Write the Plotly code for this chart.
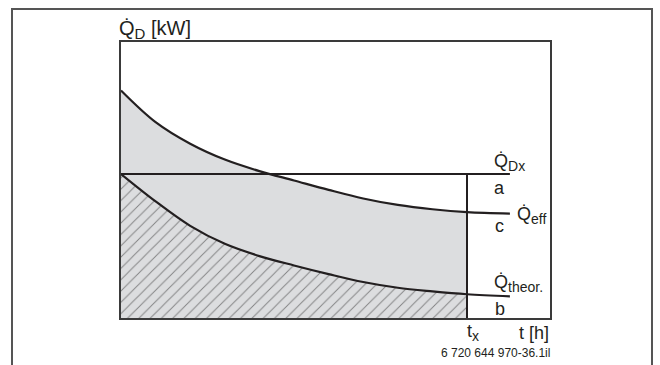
import plotly.graph_objects as go

# time axis (relative units, t_x = 10)
t = [0, 1, 2, 3, 4, 5, 6, 7, 8, 9, 10, 11.24]
q_eff = [15.8, 13.6, 12.1, 11.0, 10.2, 9.55, 8.9, 8.3, 7.85, 7.55, 7.35, 7.25]
q_theor = [10.0, 8.1, 6.4, 5.15, 4.3, 3.65, 3.05, 2.5, 2.1, 1.85, 1.65, 1.5]
q_dx = 10.0
t_x = 10.0
t_end = 11.24

# pixel geometry helpers (plot area 121..550 x, 42..318 y)
W, H = 660, 365
L, R, T, B = 121, 550, 42, 318
XR = (R - L) / 34.6
YR = (B - T) / 14.4

def px(x):
    return (x - L) / (R - L)

def py(y):
    return (B - y) / (B - T)

LINE = "#231f20"
GRAY = "#dcdddf"
FONT = "Liberation Sans, Arial, sans-serif"

n_fill = t.index(t_x) + 1

fig = go.Figure()
# gray area under Q_eff up to t_x
fig.add_trace(go.Scatter(x=t[:n_fill], y=q_eff[:n_fill], mode="lines", line=dict(width=0, shape="spline"),
                         fill="tozeroy", fillcolor=GRAY, hoverinfo="skip"))
# hatched area under Q_theor up to t_x
fig.add_trace(go.Scatter(x=t[:n_fill], y=q_theor[:n_fill], mode="lines", line=dict(width=0, shape="spline"),
                         fill="tozeroy", fillcolor=GRAY,
                         fillpattern=dict(shape="/", size=8, solidity=0.12, fgcolor="#2a2a2a", bgcolor=GRAY),
                         hoverinfo="skip"))
# curves
fig.add_trace(go.Scatter(x=t, y=q_eff, mode="lines", line=dict(color=LINE, width=2.2, shape="spline")))
fig.add_trace(go.Scatter(x=t, y=q_theor, mode="lines", line=dict(color=LINE, width=2.2, shape="spline")))
# Q_Dx horizontal line
fig.add_trace(go.Scatter(x=[0, t_end], y=[q_dx, q_dx], mode="lines", line=dict(color=LINE, width=2)))
# t_x vertical line
fig.add_trace(go.Scatter(x=[t_x, t_x], y=[0, q_dx], mode="lines", line=dict(color=LINE, width=2)))

# outer frame (left, top, right)
fig.add_shape(type="path", xref="paper", yref="paper",
              path=f"M {px(12)} {py(366)} L {px(12)} {py(9)} L {px(652)} {py(9)} L {px(652)} {py(366)}",
              line=dict(color="#555555", width=2))

def sub(s, size=14):
    return f"<sub><span style='font-size:{size}px'>{s}</span></sub>"

ann = [
    ("Q\u0307" + sub("D", 15) + " [kW]", 117, 29, "left", 20),
    ("Q\u0307" + sub("Dx"), 492, 162, "left", 18),
    ("a", 499, 188, "center", 18),
    ("Q\u0307" + sub("eff"), 515, 215, "left", 18),
    ("c", 499, 226, "center", 18),
    ("Q\u0307" + sub("theor."), 492, 283, "left", 18),
    ("b", 500, 309, "center", 18),
    ("t" + sub("x"), 465, 332, "left", 18),
    ("t [h]", 551, 333, "right", 18),
    ("6 720 644 970-36.1il", 552, 353, "right", 12),
]
for text, x, y, xa, fs in ann:
    fig.add_annotation(text=text, x=px(x), y=py(y), xref="paper", yref="paper",
                       xanchor=xa, yanchor="middle", showarrow=False,
                       font=dict(family=FONT, size=fs, color=LINE))

fig.update_xaxes(range=[0, XR], showgrid=False, zeroline=False, showticklabels=False, ticks="",
                 showline=True, mirror=True, linecolor="#3a3a3a", linewidth=2, fixedrange=True)
fig.update_yaxes(range=[0, YR], showgrid=False, zeroline=False, showticklabels=False, ticks="",
                 showline=True, mirror=True, linecolor="#3a3a3a", linewidth=2, fixedrange=True)
fig.update_layout(width=W, height=H, margin=dict(l=L, r=W - R, t=T, b=H - B),
                  showlegend=False, plot_bgcolor="white", paper_bgcolor="white")
fig.write_html("out.html", config={"displayModeBar": False},
               post_script="document.body.style.margin='0';document.body.style.overflow='hidden';")
